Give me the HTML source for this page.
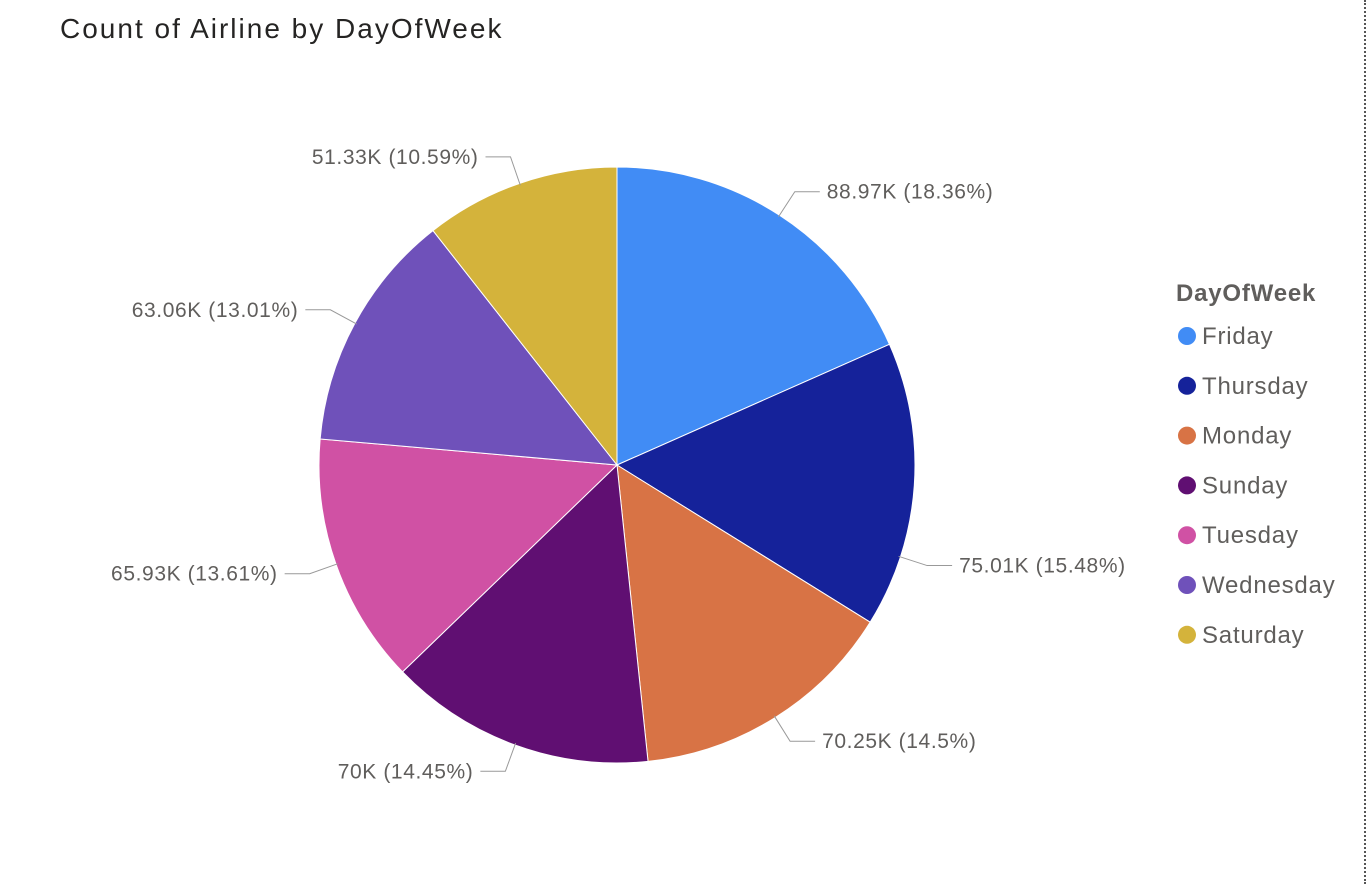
<!DOCTYPE html>
<html><head><meta charset="utf-8">
<style>
html,body{margin:0;padding:0;background:#fff;width:1370px;height:884px;overflow:hidden;font-family:"Liberation Sans",sans-serif;}
#title{position:absolute;left:60px;top:13px;font-size:28px;letter-spacing:2px;color:#252423;}
#divider{position:absolute;left:1364px;top:0;height:884px;border-left:2px dotted #555;}
</style></head><body>
<div id="title">Count of Airline by DayOfWeek</div>
<div id="divider"></div>
<svg id="chart" width="1370" height="884" style="position:absolute;left:0;top:0"></svg>
<script>
const categories=["Friday","Thursday","Monday","Sunday","Tuesday","Wednesday","Saturday"];
const values=[88.97,75.01,70.25,70.00,65.93,63.06,51.33];
const valueLabels=["88.97K","75.01K","70.25K","70K","65.93K","63.06K","51.33K"];
const pctLabels=["18.36%","15.48%","14.5%","14.45%","13.61%","13.01%","10.59%"];
const colors=["#418CF5","#15229A","#D87345","#600F72","#D051A4","#6F51BA","#D4B33B"];
const labelShiftDeg=[0,14,0,0,0,0,0];

const NS="http://www.w3.org/2000/svg";
const svg=document.getElementById('chart');
const cx=617,cy=465,R=298;
const total=values.reduce((a,b)=>a+b,0);
function pt(a,r){return [cx+r*Math.sin(a),cy-r*Math.cos(a)];}
let start=0;
values.forEach((v,i)=>{
  const sweep=v/total*2*Math.PI, end=start+sweep;
  const p0=pt(start,R),p1=pt(end,R);
  const path=document.createElementNS(NS,'path');
  path.setAttribute('d',`M${cx},${cy} L${p0[0]},${p0[1]} A${R},${R} 0 ${sweep>Math.PI?1:0} 1 ${p1[0]},${p1[1]} Z`);
  path.setAttribute('fill',colors[i]);path.setAttribute('stroke','#fff');path.setAttribute('stroke-width','1');
  
  
  svg.appendChild(path);
  const mid=start+sweep/2+labelShiftDeg[i]*Math.PI/180;
  const a=pt(mid,R-2),b=pt(mid,R+28);
  const right=Math.sin(mid)>=0;
  const c=[b[0]+(right?25:-25),b[1]];
  const line=document.createElementNS(NS,'polyline');
  line.setAttribute('points',`${a[0]},${a[1]} ${b[0]},${b[1]} ${c[0]},${c[1]}`);
  line.setAttribute('fill','none');line.setAttribute('stroke','#999');line.setAttribute('stroke-width','1');
  
  
  svg.appendChild(line);
  const t=document.createElementNS(NS,'text');
  t.setAttribute('x',c[0]+(right?7:-7));t.setAttribute('y',c[1]+7);
  t.setAttribute('text-anchor',right?'start':'end');
  t.setAttribute('font-size','21');t.setAttribute('letter-spacing','0.6');t.setAttribute('fill','#605E5C');
  t.setAttribute('font-family','Liberation Sans, sans-serif');
  t.textContent=`${valueLabels[i]} (${pctLabels[i]})`;
  
  
  svg.appendChild(t);
  start=end;
});
const lt=document.createElementNS(NS,'text');
lt.setAttribute('x',1176);lt.setAttribute('y',301);lt.setAttribute('font-size','24');lt.setAttribute('font-weight','bold');lt.setAttribute('letter-spacing','0.8');
lt.setAttribute('fill','#605E5C');lt.setAttribute('font-family','Liberation Sans, sans-serif');lt.textContent='DayOfWeek';


svg.appendChild(lt);
categories.forEach((c,i)=>{
  const y=336+i*49.8;
  const g=document.createElementNS(NS,'g');
  
  
  const ci=document.createElementNS(NS,'circle');
  ci.setAttribute('cx',1187);ci.setAttribute('cy',y);ci.setAttribute('r',9);ci.setAttribute('fill',colors[i]);
  g.appendChild(ci);
  const t=document.createElementNS(NS,'text');
  t.setAttribute('x',1202);t.setAttribute('y',y+8);t.setAttribute('font-size','24');t.setAttribute('letter-spacing','0.8');t.setAttribute('fill','#605E5C');
  t.setAttribute('font-family','Liberation Sans, sans-serif');t.textContent=c;
  g.appendChild(t);
  svg.appendChild(g);
});
</script>
</body></html>
